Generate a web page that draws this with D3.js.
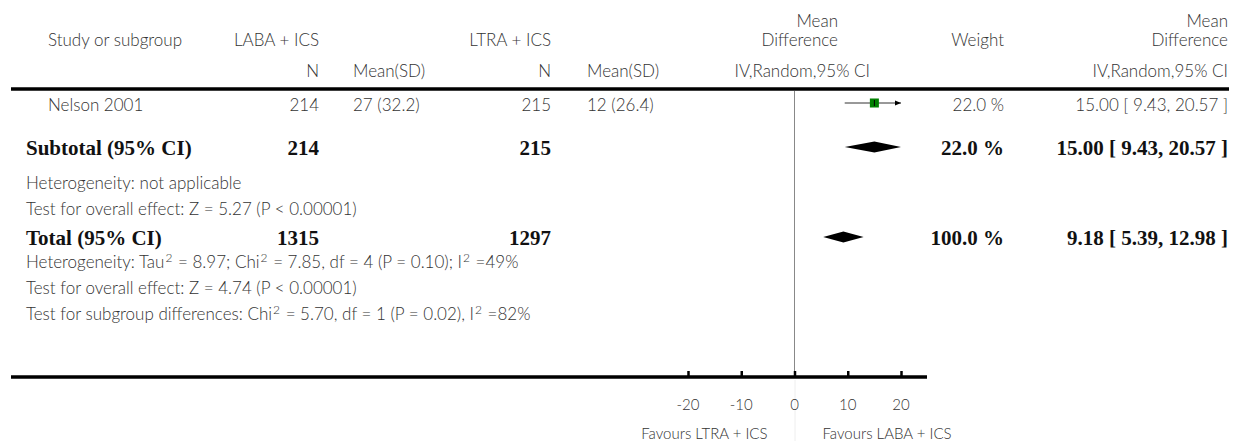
<!DOCTYPE html>
<html>
<head>
<meta charset="utf-8">
<script src="https://cdn.jsdelivr.net/npm/d3@7"></script>
<style>
  html, body { margin: 0; padding: 0; background: #fff; }
  svg { display: block; }
  .sans { font-family: Lato, "Open Sans", sans-serif; font-size: 17px; font-weight: 300; fill: #333; }
  .small { font-family: Lato, "Open Sans", sans-serif; font-size: 15px; font-weight: 300; fill: #333; }
  .bold { font-family: "Liberation Serif", "DejaVu Serif", serif; font-size: 21px; font-weight: bold; fill: #111; }
</style>
</head>
<body>
<svg id="chart" width="1234" height="441"></svg>
<script>
// ---- data ----
const studyNames = ["Nelson 2001"];
const labaN = [214];
const labaMeanSD = ["27 (32.2)"];
const ltraN = [215];
const ltraMeanSD = ["12 (26.4)"];
const studyMD = [15.00];
const studyLow = [9.43];
const studyHigh = [20.57];
const studyWeight = [22.0];

const summaryLabels = ["Subtotal (95% CI)", "Total (95% CI)"];
const summaryLabaN = [214, 1315];
const summaryLtraN = [215, 1297];
const summaryMD = [15.00, 9.18];
const summaryLow = [9.43, 5.39];
const summaryHigh = [20.57, 12.98];
const summaryWeight = [22.0, 100.0];

const axisTicks = [-20, -10, 0, 10, 20];
const axisDomain = [-20, 20];
const favoursLeft = "Favours LTRA + ICS";
const favoursRight = "Favours LABA + ICS";

const footNotes = [
  ["Heterogeneity: not applicable"],
  ["Test for overall effect: Z = 5.27 (P < 0.00001)"],
  ["Heterogeneity: Tau", "2", " = 8.97; Chi", "2", " = 7.85, df = 4 (P = 0.10); I", "2", " =49%"],
  ["Test for overall effect: Z = 4.74 (P < 0.00001)"],
  ["Test for subgroup differences: Chi", "2", " = 5.70, df = 1 (P = 0.02), I", "2", " =82%"]
];

// ---- layout ----
const svg = d3.select("#chart");
const x = d3.scaleLinear().domain(axisDomain).range([688, 901]);
const fmt2 = d3.format(".2f");
const fmt1 = d3.format(".1f");

const col = { study: 48, labaN: 319, labaMS: 353, ltraN: 551, ltraMS: 587, mdHdr: 838, mdSub: 870, weight: 1004, right: 1228 };

function txt(xp, yp, s, anchor, cls) {
  return svg.append("text").attr("x", xp).attr("y", yp).attr("text-anchor", anchor || "start").attr("class", cls || "sans").text(s);
}

// headers
txt(col.study, 46, "Study or subgroup");
txt(col.labaN, 46, "LABA + ICS", "end");
txt(col.ltraN, 46, "LTRA + ICS", "end");
txt(col.mdHdr, 27, "Mean", "end");
txt(col.mdHdr, 46, "Difference", "end");
txt(col.weight, 46, "Weight", "end");
txt(col.right, 27, "Mean", "end");
txt(col.right, 46, "Difference", "end");
txt(col.labaN, 77, "N", "end");
txt(col.labaMS, 77, "Mean(SD)");
txt(col.ltraN, 77, "N", "end");
txt(col.ltraMS, 77, "Mean(SD)");
txt(col.mdSub, 77, "IV,Random,95% CI", "end");
txt(col.right, 77, "IV,Random,95% CI", "end");

// top thick rule
svg.append("line").attr("x1", 11).attr("x2", 1229).attr("y1", 89).attr("y2", 89)
  .attr("stroke", "#000").attr("stroke-width", 3.5);

// zero line
svg.append("line").attr("x1", x(0)).attr("x2", x(0)).attr("y1", 91).attr("y2", 377)
  .attr("stroke", "#888").attr("stroke-width", 1);
svg.append("line").attr("x1", x(0) + 0.5).attr("x2", x(0) + 0.5).attr("y1", 380).attr("y2", 441)
  .attr("stroke", "#eee").attr("stroke-width", 1);

// study rows
const rowY = [103];
studyNames.forEach((name, i) => {
  const y = rowY[i];
  const ty = y + 8;
  txt(col.study, ty, name);
  txt(col.labaN, ty, labaN[i], "end");
  txt(col.labaMS, ty, labaMeanSD[i]);
  txt(col.ltraN, ty, ltraN[i], "end");
  txt(col.ltraMS, ty, ltraMeanSD[i]);
  txt(col.weight, ty, fmt1(studyWeight[i]) + " %", "end");
  txt(col.right, ty, `${fmt2(studyMD[i])} [ ${fmt2(studyLow[i])}, ${fmt2(studyHigh[i])} ]`, "end");

  const lo = Math.max(studyLow[i], axisDomain[0]);
  const hi = Math.min(studyHigh[i], axisDomain[1]);
  svg.append("line").attr("x1", x(lo)).attr("x2", x(hi)).attr("y1", y).attr("y2", y)
    .attr("stroke", "#333").attr("stroke-width", 1);
  if (studyHigh[i] > axisDomain[1]) {
    const xe = x(axisDomain[1]);
    svg.append("path").attr("d", `M${xe},${y} L${xe - 6},${y - 2.5} L${xe - 6},${y + 2.5} Z`).attr("fill", "#000");
  }
  if (studyLow[i] < axisDomain[0]) {
    const xs = x(axisDomain[0]);
    svg.append("path").attr("d", `M${xs},${y} L${xs + 6},${y - 2.5} L${xs + 6},${y + 2.5} Z`).attr("fill", "#000");
  }
  const s = 9;
  svg.append("rect").attr("x", x(studyMD[i]) - s / 2).attr("y", y - s / 2).attr("width", s).attr("height", s)
    .attr("fill", "#008000");
  svg.append("line").attr("x1", x(studyMD[i])).attr("x2", x(studyMD[i])).attr("y1", y - 3).attr("y2", y + 3)
    .attr("stroke", "#000").attr("stroke-width", 1);
});

// summary rows
const sumY = [147, 237];
summaryLabels.forEach((lab, i) => {
  const y = sumY[i];
  const ty = y + 8;
  txt(26, ty, lab, "start", "bold");
  txt(col.labaN, ty, summaryLabaN[i], "end", "bold");
  txt(col.ltraN, ty, summaryLtraN[i], "end", "bold");
  txt(col.weight, ty, fmt1(summaryWeight[i]) + " %", "end", "bold");
  txt(col.right, ty, `${fmt2(summaryMD[i])} [ ${fmt2(summaryLow[i])}, ${fmt2(summaryHigh[i])} ]`, "end", "bold");
  const lo = x(Math.max(summaryLow[i], axisDomain[0]));
  const hi = x(Math.min(summaryHigh[i], axisDomain[1]));
  const c = x(summaryMD[i]);
  const h = 5.5;
  svg.append("path").attr("d", `M${lo},${y} L${c},${y - h} L${hi},${y} L${c},${y + h} Z`).attr("fill", "#000");
});

// footnotes
const noteY = [189, 215, 268, 294, 320];
footNotes.forEach((parts, i) => {
  const t = svg.append("text").attr("x", 26).attr("y", noteY[i]).attr("class", "sans");
  parts.forEach((p, j) => {
    const isSup = (j % 2 === 1);
    const ts = t.append("tspan").text(p);
    if (isSup) ts.attr("dy", -6).attr("dx", 1).style("font-size", "12px");
    else if (j > 0) ts.attr("dy", 6).attr("dx", 1);
  });
});

// axis
const axisY = 377;
svg.append("line").attr("x1", 11).attr("x2", 927).attr("y1", axisY).attr("y2", axisY)
  .attr("stroke", "#000").attr("stroke-width", 3.5);
const axis = d3.axisTop(x).tickValues(axisTicks).tickSize(6).tickFormat(d3.format("d"));
const ag = svg.append("g").attr("transform", `translate(0,${axisY})`).call(axis);
ag.select(".domain").remove();
ag.selectAll(".tick line").attr("stroke", "#000").attr("stroke-width", 2.5);
ag.selectAll(".tick text").remove();
axisTicks.forEach(v => {
  txt(x(v), 410, String(v), "middle", "small");
});
txt(x(0) - 27, 439, favoursLeft, "end", "small");
txt(x(0) + 28, 439, favoursRight, "start", "small");
</script>
</body>
</html>
